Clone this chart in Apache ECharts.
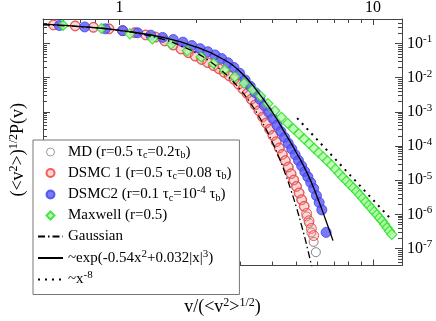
<!DOCTYPE html>
<html>
<head>
<meta charset="utf-8">
<script src="https://cdn.jsdelivr.net/npm/echarts@6.0.0/dist/echarts.min.js"></script>
<style>html,body{margin:0;padding:0;background:#fff}#chart{width:436px;height:321px}</style>
</head>
<body>
<div id="chart"></div>
<script>
// values (x = v/<v^2>^1/2, y = <v^2>^1/2 P(v))
var dsmc1X = [0.55,0.67,0.79,0.91,1.03,1.15,1.27,1.39,1.51,1.63,1.75,1.87,1.99,2.11,2.23,2.35,2.47,2.59,2.71,2.83,2.95,3.07,3.19,3.31,3.43,3.55,3.67,3.79,3.91,4.03,4.15,4.27,4.39,4.51,4.63,4.75,4.87,4.99,5.11,5.23,5.35,5.47,5.59,5.71,5.83];
var dsmc1Y = [0.352,0.329,0.299,0.270,0.238,0.208,0.179,0.155,0.119,0.0903,0.0692,0.0540,0.0429,0.0343,0.0277,0.0225,0.0182,0.0144,0.0114,0.00895,0.00647,0.00468,0.00343,0.00234,0.00160,0.00108,7.11e-4,4.70e-4,3.09e-4,2.03e-4,1.33e-4,8.75e-5,5.68e-5,3.73e-5,2.42e-5,1.55e-5,1.01e-5,6.56e-6,4.23e-6,2.67e-6,1.72e-6,1.06e-6,6.47e-7,3.88e-7,2.39e-7];

var mdX = [0.55,0.67,0.79,0.91,1.03,1.15,1.27,1.39,1.51,1.63,1.75,1.87,1.99,2.11,2.23,2.35,2.47,2.59,2.71,2.83,2.95,3.07,3.19,3.31,3.43,3.55,3.67,3.79,3.91,4.03,4.15,4.27,4.39,4.51,4.63,4.75,4.87,4.99,5.11,5.23,5.35,5.47,5.59,5.71,5.83,5.95];
var mdY = [0.352,0.329,0.299,0.270,0.238,0.208,0.179,0.155,0.119,0.0903,0.0692,0.0540,0.0429,0.0343,0.0277,0.0225,0.0182,0.0144,0.0114,0.00895,0.00647,0.00468,0.00343,0.00234,0.00160,0.00108,7.11e-4,4.70e-4,3.09e-4,2.03e-4,1.33e-4,8.75e-5,5.68e-5,3.73e-5,2.42e-5,1.55e-5,1.01e-5,6.56e-6,4.23e-6,2.67e-6,1.72e-6,8.7e-7,5.6e-7,2.95e-7,1.56e-7,7.8e-8];

var dsmc2X = [0.58,0.73,0.88,1.03,1.18,1.33,1.48,1.63,1.78,1.93,2.08,2.23,2.38,2.53,2.68,2.83,2.98,3.13,3.28,3.43,3.58,3.73,3.88,4.03,4.18,4.33,4.48,4.63,4.78,4.93,5.08,5.23,5.38,5.53,5.68,5.83,5.98,6.13,6.28,6.53];
var dsmc2Y = [0.337,0.307,0.270,0.239,0.207,0.176,0.151,0.131,0.110,0.0875,0.0710,0.0578,0.0466,0.0363,0.0273,0.0199,0.0135,0.00863,0.00566,0.00365,0.00232,0.00151,9.59e-4,6.34e-4,4.06e-4,2.67e-4,1.79e-4,1.20e-4,8.22e-5,5.57e-5,3.78e-5,2.61e-5,1.78e-5,1.25e-5,8.51e-6,5.70e-6,3.52e-6,2.22e-6,1.35e-6,2.96e-7];

var maxwellX = [0.60,0.85,1.10,1.35,1.60,1.85,2.10,2.35,2.60,2.85,3.10,3.35,3.60,3.85,4.10,4.35,4.60,4.85,5.10,5.35,5.60,5.85,6.10,6.35,6.60,6.85,7.10,7.35,7.60,7.85,8.10,8.35,8.60,8.85,9.10,9.35,9.60,9.85,10.10,10.35,10.60,10.85,11.10,11.35,11.60,11.85];
var maxwellY = [0.343,0.276,0.193,0.136,0.0968,0.0612,0.0407,0.0262,0.0167,0.0106,0.00690,0.00445,0.00290,0.00175,0.00108,6.97e-4,4.64e-4,3.21e-4,2.26e-4,1.61e-4,1.17e-4,8.59e-5,6.41e-5,4.84e-5,3.68e-5,2.80e-5,2.10e-5,1.59e-5,1.21e-5,9.48e-6,7.45e-6,5.96e-6,4.74e-6,3.75e-6,2.94e-6,2.32e-6,1.85e-6,1.49e-6,1.20e-6,9.66e-7,7.87e-7,6.43e-7,5.14e-7,4.06e-7,3.23e-7,2.58e-7];

var gaussX = [0.5,0.75,1.0,1.25,1.5,1.75,2.0,2.25,2.5,2.75,3.0,3.25,3.5,3.75,4.0,4.25,4.5,4.75,5.0,5.25,5.5,5.75];
var gaussY = [0.352,0.301,0.242,0.183,0.130,0.0863,0.0540,0.0317,0.0175,0.00909,0.00443,0.00203,8.73e-4,3.53e-4,1.34e-4,4.77e-5,1.60e-5,5.03e-6,1.49e-6,4.13e-7,1.08e-7,2.6e-8];

var fitX = [0.5,0.75,1,1.5,2,2.5,3,3.5,4,4.5,5,5.5,6,6.5,6.95];
var fitY = [0.369,0.303,0.244,0.149,0.0800,0.0385,0.0148,0.00399,0.00101,2.37e-4,6.17e-5,1.61e-5,3.47e-6,6.98e-7,1.70e-7];

var powX = [5.02, 11.88];
var powY = [6.55e-4, 6.7e-7];

var xMajor = [1, 10];
var xMinor = [0.6,0.7,0.8,0.9,2,3,4,5,6,7,8,9];
var yMajor = [1e-7,1e-6,1e-5,1e-4,1e-3,1e-2,1e-1];
var yMinor = [];
for (var e = -8; e <= -1; e++) {
  for (var k = 2; k <= 9; k++) yMinor.push(k * Math.pow(10, e));
}

var serif = 'Liberation Serif';
var axisColor = '#444';
var rich = {
  sup: {fontFamily: serif, fontSize: 11, color: '#000', padding: [0, 0, 8, 0]},
  sub: {fontFamily: serif, fontSize: 10, color: '#000', padding: [7, 0, 0, 0]}
};
var richBig = {
  sup: {fontFamily: serif, fontSize: 12, color: '#000', padding: [0, 0, 9, 0]}
};

var legendText = {
  'MD': 'MD (r=0.5 τ{sub|c}=0.2τ{sub|b})',
  'DSMC 1': 'DSMC 1 (r=0.5 τ{sub|c}=0.08 τ{sub|b})',
  'DSMC2': 'DSMC2 (r=0.1 τ{sub|c}=10{sup|-4} τ{sub|b})',
  'Maxwell': 'Maxwell (r=0.5)',
  'Gaussian': 'Gaussian',
  'fit': '~exp(-0.54x{sup|2}+0.032|x|{sup|3})',
  'power': '~x{sup|-8}'
};

function pairs(xs, ys) {
  return xs.map(function (x, i) { return [x, ys[i]]; });
}

function xAxisDef(pos, ticks, len, line, label) {
  return {
    type: 'log', logBase: 10, position: pos, min: 0.5, max: 13,
    axisLine: {show: line, lineStyle: {color: axisColor, width: 1}},
    axisTick: {show: true, inside: true, length: len, customValues: ticks, lineStyle: {color: axisColor}},
    axisLabel: label ? {show: true, customValues: ticks, margin: 3, fontFamily: serif, fontSize: 16, color: '#000'} : {show: false},
    splitLine: {show: false}, minorTick: {show: false}
  };
}
function yAxisDef(pos, ticks, len, line, label) {
  return {
    type: 'log', logBase: 10, position: pos, min: 3.18e-8, max: 0.524,
    axisLine: {show: line, lineStyle: {color: axisColor, width: 1}},
    axisTick: {show: true, inside: true, length: len, customValues: ticks, lineStyle: {color: axisColor}},
    axisLabel: label ? {
      show: true, customValues: ticks, margin: 5, fontFamily: serif, fontSize: 16, color: '#000',
      formatter: function (v) { return '10{sup|' + Math.round(Math.log10(v)) + '}'; },
      rich: rich
    } : {show: false},
    splitLine: {show: false}, minorTick: {show: false}
  };
}

var xAxes = [
  xAxisDef('top', xMajor, 6, true, true),
  xAxisDef('top', xMinor, 4, false, false),
  xAxisDef('bottom', xMajor, 6, true, false),
  xAxisDef('bottom', xMinor, 4, false, false)
];
xAxes[2].name = 'v/(<v{sup|2}>{sup|1/2})';
xAxes[2].nameLocation = 'middle';
xAxes[2].nameGap = 31;
xAxes[2].nameTextStyle = {fontFamily: serif, fontSize: 18, color: '#000', rich: richBig};

var yAxes = [
  yAxisDef('right', yMajor, 7, true, true),
  yAxisDef('right', yMinor, 4, false, false),
  yAxisDef('left', yMajor, 7, true, false),
  yAxisDef('left', yMinor, 4, false, false)
];
yAxes[2].name = '(<v{sup|2}>){sup|1/2}P(v)';
yAxes[2].nameLocation = 'middle';
yAxes[2].nameGap = 14;
yAxes[2].nameTextStyle = {fontFamily: serif, fontSize: 18, color: '#000', rich: richBig, padding: [0, 15, 0, 0]};

var lineIcon = {opacity: 0};

var chart = echarts.init(document.getElementById('chart'), null, {renderer: 'canvas'});
chart.setOption({
  animation: false,
  backgroundColor: '#fff',
  grid: {left: 42, right: 34, top: 17, bottom: 43, containLabel: false},
  xAxis: xAxes,
  yAxis: yAxes,
  legend: {
    orient: 'vertical', left: 33, top: 140,
    padding: [3, 8, 6, 4], itemGap: 3, itemWidth: 25, itemHeight: 8,
    backgroundColor: '#fff', borderColor: '#777', borderWidth: 1, borderRadius: 0,
    selectedMode: false, z: 10, symbolKeepAspect: true,
    textStyle: {fontFamily: serif, fontSize: 15, color: '#000', lineHeight: 18, rich: rich},
    formatter: function (n) { return legendText[n]; },
    data: [
      {name: 'MD', icon: 'circle', itemStyle: {borderWidth: 0.8}},
      {name: 'DSMC 1', icon: 'circle'},
      {name: 'DSMC2', icon: 'circle'},
      {name: 'Maxwell', icon: 'path://M0,0 M25,8 M8.5,4 L12.5,0 L16.5,4 L12.5,8 Z'},
      {name: 'Gaussian', itemStyle: lineIcon},
      {name: 'fit', itemStyle: lineIcon},
      {name: 'power', itemStyle: lineIcon}
    ]
  },
  series: [
    {name: 'MD', type: 'scatter', data: pairs(mdX, mdY), symbol: 'circle', symbolSize: 9,
      itemStyle: {color: 'rgba(255,255,255,0)', borderColor: '#666', borderWidth: 1}},
    {name: 'DSMC 1', type: 'scatter', data: pairs(dsmc1X, dsmc1Y), symbol: 'circle', symbolSize: 10,
      itemStyle: {color: 'rgba(255,140,140,0.45)', borderColor: '#ff3333', borderWidth: 1}},
    {name: 'DSMC2', type: 'scatter', data: pairs(dsmc2X, dsmc2Y), symbol: 'circle', symbolSize: 10,
      itemStyle: {color: '#5959f7', borderColor: '#4040ee', borderWidth: 1}},
    {name: 'Maxwell', type: 'scatter', data: pairs(maxwellX, maxwellY), symbol: 'diamond', symbolSize: 10,
      symbolKeepAspect: true,
      itemStyle: {color: '#b4ffa8', borderColor: '#22dd22', borderWidth: 1.2}},
    {name: 'Gaussian', type: 'line', data: pairs(gaussX, gaussY), symbol: 'none', smooth: true,
      itemStyle: {color: 'rgba(0,0,0,0)'},
      lineStyle: {color: '#000', width: 1.3, type: [7, 3, 1.5, 3]}},
    {name: 'fit', type: 'line', data: pairs(fitX, fitY), symbol: 'none', smooth: true,
      itemStyle: {color: 'rgba(0,0,0,0)'},
      lineStyle: {color: '#000', width: 1.3}},
    {name: 'power', type: 'line', data: pairs(powX, powY), symbol: 'none',
      itemStyle: {color: 'rgba(0,0,0,0)'},
      lineStyle: {color: '#000', width: 2, type: [2, 5]}}
  ]
});
</script>
</body>
</html>
